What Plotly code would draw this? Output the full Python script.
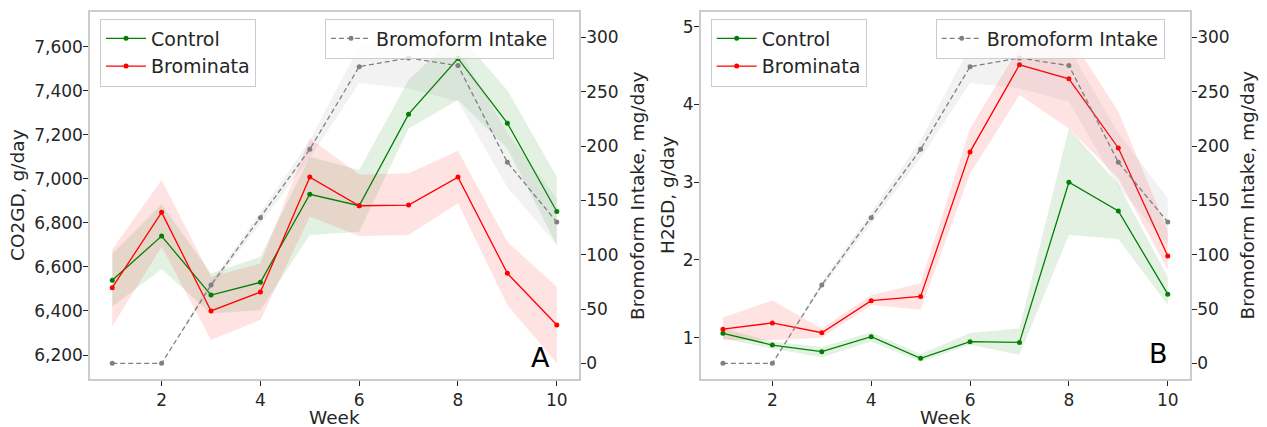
import plotly.graph_objects as go
from plotly.subplots import make_subplots

weeks = [1, 2, 3, 4, 5, 6, 7, 8, 9, 10]

# Panel A: CO2GD (g/day)
co2_control = [6540, 6740, 6472, 6530, 6930, 6878, 7294, 7547, 7253, 6852]
co2_control_hi = [6660, 6885, 6570, 6646, 7100, 7040, 7449, 7661, 7403, 7010]
co2_control_lo = [6420, 6590, 6389, 6404, 6745, 6760, 7229, 7358, 7138, 6700]
co2_brom = [6506, 6848, 6400, 6486, 7008, 6878, 6881, 7008, 6571, 6336]
co2_brom_hi = [6680, 6995, 6555, 6616, 7184, 7020, 7025, 7128, 6714, 6510]
co2_brom_lo = [6330, 6692, 6268, 6359, 6828, 6740, 6745, 6889, 6427, 6162]

# Panel B: H2GD (g/day)
h2_control = [1.057, 0.906, 0.82, 1.013, 0.735, 0.949, 0.94, 3.0, 2.63, 1.56]
h2_control_hi = [1.12, 0.95, 0.88, 1.07, 0.79, 1.06, 1.12, 3.69, 2.97, 1.78]
h2_control_lo = [0.99, 0.86, 0.75, 0.95, 0.69, 0.91, 0.78, 2.32, 2.27, 1.42]
h2_brom = [1.11, 1.19, 1.064, 1.476, 1.53, 3.39, 4.51, 4.33, 3.44, 2.05]
h2_brom_hi = [1.26, 1.48, 1.12, 1.55, 1.70, 3.69, 4.74, 4.90, 3.91, 2.38]
h2_brom_lo = [0.97, 0.97, 1.00, 1.42, 1.36, 3.11, 4.12, 3.69, 3.05, 1.87]

# Bromoform intake (mg/day)
bromo = [0, 0, 72, 134, 197, 273, 281, 274, 185, 130]
bromo_hi = [0, 0, 75, 139, 205, 292, 294, 290, 212, 152]
bromo_lo = [0, 0, 69, 129, 189, 258, 253, 241, 162, 109]

left_ticks_a = [6200, 6400, 6600, 6800, 7000, 7200, 7400, 7600]
left_ticks_b = [1, 2, 3, 4, 5]
right_ticks = [0, 50, 100, 150, 200, 250, 300]
x_ticks = [2, 4, 6, 8, 10]

GREEN = "#008000"
RED = "#ff0000"
GRAY = "#808080"
TXT = "#262626"
FONT = "DejaVu Sans"

fig = make_subplots(rows=1, cols=2, specs=[[{"secondary_y": True}, {"secondary_y": True}]])


def band(x, lo, hi, color, col, sec):
    fig.add_trace(go.Scatter(x=list(x) + list(x)[::-1], y=list(hi) + list(lo)[::-1],
                             fill="toself", fillcolor=color, line=dict(width=0),
                             mode="lines", hoverinfo="skip", showlegend=False),
                  row=1, col=col, secondary_y=sec)


def line(x, y, color, name, col, sec, legend, dash="solid"):
    fig.add_trace(go.Scatter(x=x, y=y, mode="lines+markers", name=name,
                             line=dict(color=color, width=1.3, dash=dash),
                             marker=dict(color=color, size=5, line=dict(width=0)),
                             legend=legend),
                  row=1, col=col, secondary_y=sec)


# Panel A
band(weeks, co2_control_lo, co2_control_hi, "rgba(0,128,0,0.11)", 1, False)
band(weeks, co2_brom_lo, co2_brom_hi, "rgba(255,0,0,0.11)", 1, False)
line(weeks, co2_control, GREEN, "Control", 1, False, "legend")
line(weeks, co2_brom, RED, "Brominata", 1, False, "legend")
band(weeks, bromo_lo, bromo_hi, "rgba(128,128,128,0.1)", 1, True)
line(weeks, bromo, GRAY, "Bromoform Intake", 1, True, "legend2", dash="5px,3px")

# Panel B
band(weeks, h2_control_lo, h2_control_hi, "rgba(0,128,0,0.11)", 2, False)
band(weeks, h2_brom_lo, h2_brom_hi, "rgba(255,0,0,0.11)", 2, False)
line(weeks, h2_control, GREEN, "Control", 2, False, "legend3")
line(weeks, h2_brom, RED, "Brominata", 2, False, "legend3")
band(weeks, bromo_lo, bromo_hi, "rgba(128,128,128,0.1)", 2, True)
line(weeks, bromo, GRAY, "Bromoform Intake", 2, True, "legend4", dash="5px,3px")

W, H = 1267, 427
ML, MR, MT, MB = 0, 0, 12, 48
PH = H - MT - MB


def px_x(px):
    return px / W


def px_y(py):
    return (H - MB - py) / PH


ax_common = dict(showline=True, linecolor="#cccccc", linewidth=1.5, showgrid=False,
                 zeroline=False, ticks="outside", ticklen=5, tickwidth=1, tickcolor=TXT,
                 automargin=False,
                 tickfont=dict(family=FONT, size=17, color=TXT))
y_common = dict(ticklabelstandoff=-3, **ax_common)

fig.update_layout(
    template="none",
    width=W, height=H, margin=dict(l=ML, r=MR, t=MT, b=MB),
    plot_bgcolor="white", paper_bgcolor="white",
    font=dict(family=FONT, color=TXT),
    xaxis=dict(domain=[px_x(90), px_x(579)], range=[0.55, 10.45], tickvals=x_ticks, mirror=True, **ax_common),
    xaxis2=dict(domain=[px_x(700.7), px_x(1190)], range=[0.55, 10.45], tickvals=x_ticks, mirror=True, **ax_common),
    yaxis=dict(range=[6091, 7758], tickvals=left_ticks_a, tickformat=",d", mirror=True, **y_common),
    yaxis2=dict(range=[-14.4, 323.3], tickvals=right_ticks, **y_common),
    yaxis3=dict(range=[0.469, 5.189], tickvals=left_ticks_b, mirror=True, **y_common),
    yaxis4=dict(range=[-14.4, 323.3], tickvals=right_ticks, **y_common),
)

leg_common = dict(bgcolor="rgba(255,255,255,0.8)", bordercolor="#cccccc", borderwidth=1,
                  font=dict(family=FONT, size=19, color=TXT), xanchor="left", yanchor="top",
                  itemwidth=40, tracegroupgap=0)
ytop = px_y(18.5)
fig.update_layout(
    legend=dict(x=px_x(100), y=ytop, **leg_common),
    legend2=dict(x=px_x(325), y=ytop, **leg_common),
    legend3=dict(x=px_x(710.7), y=ytop, **leg_common),
    legend4=dict(x=px_x(935.7), y=ytop, **leg_common),
)

# axis titles
titles = [
    ("Week", 334.5, 418, 0),
    ("Week", 945.4, 418, 0),
    ("CO2GD, g/day", 17.5, 195.5, -90),
    ("Bromoform Intake, mg/day", 637.5, 195.5, -90),
    ("H2GD, g/day", 667.5, 195.5, -90),
    ("Bromoform Intake, mg/day", 1247, 195.5, -90),
]
for text, tx, ty, ang in titles:
    fig.add_annotation(text=text, x=px_x(tx), y=px_y(ty), xref="paper", yref="paper",
                       xanchor="center", yanchor="middle", textangle=ang, showarrow=False,
                       font=dict(family=FONT, size=18.5, color=TXT))

fig.add_annotation(text="A", x=px_x(540), y=px_y(357), xref="paper", yref="paper",
                   xanchor="center", yanchor="middle",
                   showarrow=False, font=dict(family=FONT, size=27, color="black"))
fig.add_annotation(text="B", x=px_x(1158), y=px_y(353), xref="paper", yref="paper",
                   xanchor="center", yanchor="middle",
                   showarrow=False, font=dict(family=FONT, size=27, color="black"))

fig.write_html("out.html", config={"displayModeBar": False},
               post_script="document.body.style.margin='0px';")
